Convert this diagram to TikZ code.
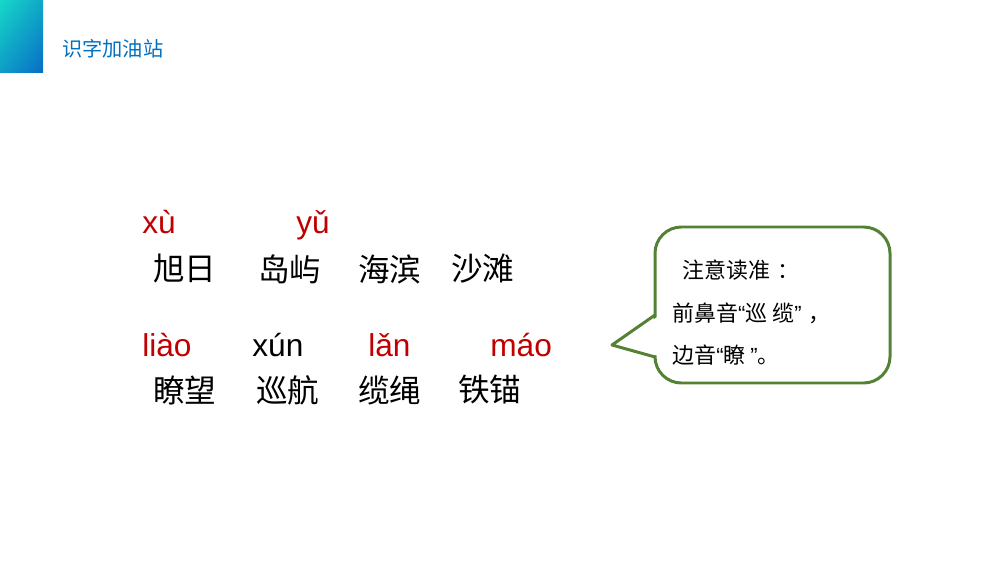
\documentclass[tikz,border=0pt]{standalone}
\usepackage{fontspec}
\setmainfont{Liberation Sans}
\newfontfamily\cjk{Noto Sans CJK SC}
\usetikzlibrary{positioning,shadings}
\definecolor{pyred}{RGB}{192,0,0}
\definecolor{titleblue}{RGB}{0,112,192}
\definecolor{notegreen}{RGB}{84,130,53}
\definecolor{tealtop}{RGB}{22,216,200}
\definecolor{bluebot}{RGB}{8,108,198}
\begin{document}
\begin{tikzpicture}[x=0.02cm,y=-0.02cm,
            py/.style={anchor=base west,inner sep=0,text=pyred,
                font=\fontsize{18}{18}\selectfont},
            hz/.style={anchor=west,inner sep=0,
                font=\cjk\fontsize{18}{18}\selectfont},
            note/.style={anchor=west,inner sep=0,
                font=\cjk\fontsize{12.5}{12.5}\selectfont},
            callout/.style={draw=notegreen,line width=1.7pt,line join=round}]
            \useasboundingbox (0,0) rectangle (1000,563);
            \shade[upper left=tealtop,upper right=tealtop!55!bluebot,
                lower left=tealtop!45!bluebot,lower right=bluebot]
                (0,0) rectangle (43,73);
            \node[anchor=west,inner sep=0,text=titleblue,
                font=\cjk\fontsize{11.5}{11.5}\selectfont] (title) at (62,49) {识字加油站};
            \path
            (142,234) node[py] (xu) {xù} % <<< pinyin 1
            (296,234) node[py] (yu) {yǔ}
            (153,269) node[hz] (xuri) {旭日} % <<< row 1
            (258,269) node[hz] (daoyu) {岛屿}
            (358,269) node[hz] (haibin) {海滨}
            (451,269) node[hz] (shatan) {沙滩}
            (142,357) node[py] (liao) {liào} % <<< pinyin 2
            (252,357) node[py,text=black] (xun) {xún}
            (368,357) node[py] (lan) {lǎn}
            (490,357) node[py] (mao) {máo}
            (153,390) node[hz] (liaowang) {瞭望} % <<< row 2
            (256,390) node[hz] (xunhang) {巡航}
            (358,390) node[hz] (lansheng) {缆绳}
            (458,390) node[hz] (tiemao) {铁锚};
            \begin{scope}
                \draw[callout,fill=white,rounded corners=15pt] (655,227) rectangle (890,383);
                \fill[white] (659,316) -- (612,345) -- (659,356) -- cycle;
                \draw[callout] (655,315) -- (612,345) -- (655,357);
            \end{scope}
            \path
            (682,270) node[note] (n1) {注意读准\hspace{0.35em}：}
            (672,313) node[note] (n2) {前鼻音{\normalfont “}巡 缆{\normalfont ”}\hspace{0.3em}，}
            (672,355) node[note] (n3) {边音{\normalfont “}瞭 {\normalfont ”}。};
        \end{tikzpicture}
\end{document}
